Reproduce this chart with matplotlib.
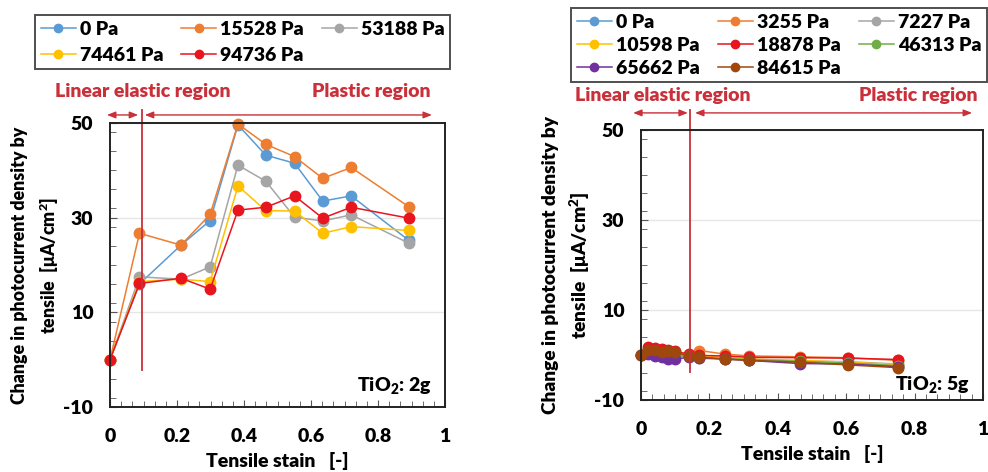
import matplotlib
matplotlib.use("Agg")
import matplotlib.pyplot as plt
from matplotlib.ticker import MultipleLocator

plt.rcParams['font.family'] = ['Lato', 'DejaVu Sans']
plt.rcParams['font.weight'] = 800
plt.rcParams['axes.labelweight'] = 800
plt.rcParams['mathtext.default'] = 'regular'
plt.rcParams['axes.unicode_minus'] = False

# ---- left panel (TiO2: 2g) ----
strain_2g = [0, 0.088, 0.212, 0.299, 0.382, 0.465, 0.551, 0.635, 0.720, 0.892]
labels_2g = ['0 Pa', '15528 Pa', '53188 Pa', '74461 Pa', '94736 Pa']
colors_2g = ['#5B9BD5', '#ED7D31', '#A5A5A5', '#FFC000', '#E8141E']
vals_2g = [
    [0, 16.0, 24.2, 29.4, 49.6, 43.2, 41.5, 33.5, 34.6, 25.2],
    [0, 26.7, 24.2, 30.7, 49.8, 45.5, 42.9, 38.3, 40.6, 32.3],
    [0, 17.5, 17.0, 19.6, 41.1, 37.7, 30.1, 29.3, 30.6, 24.6],
    [0, 16.5, 17.0, 16.5, 36.7, 31.5, 31.4, 26.7, 28.1, 27.3],
    [0, 16.1, 17.2, 14.9, 31.6, 32.2, 34.6, 29.9, 32.2, 29.9],
]

# ---- right panel (TiO2: 5g) ----
strain_5g = [0, 0.02, 0.04, 0.06, 0.08, 0.10, 0.14, 0.17, 0.245, 0.315, 0.465, 0.605, 0.75]
labels_5g = ['0 Pa', '3255 Pa', '7227 Pa', '10598 Pa', '18878 Pa', '46313 Pa',
             '65662 Pa', '84615 Pa']
colors_5g = ['#5B9BD5', '#ED7D31', '#A5A5A5', '#FFC000', '#E8141E', '#70AD47',
             '#7030A0', '#9E480E']
vals_5g = [
    [0, 0.5, 0.3, 0.2, -0.3, -0.2, -0.2, -0.4, -0.7, -1.0, -1.6, -1.7, -2.2],
    [0, 1.2, 1.0, 0.9, 0.5, 0.3, -0.1, 1.0, 0.2, -0.2, -0.4, -0.6, -1.2],
    [0, 0.8, 0.6, 0.4, 0.1, 0.2, -0.3, -0.4, -0.6, -0.9, -1.3, -1.5, -2.0],
    [0, 0.9, 0.7, 0.8, 0.5, 0.2, -0.1, -0.3, -0.5, -0.9, -1.2, -1.6, -2.1],
    [0, 1.8, 1.6, 1.4, 1.2, 0.8, 0.2, -0.1, -0.2, -0.5, -0.6, -0.7, -1.0],
    [0, 0.4, 0.2, 0.0, -0.2, -0.1, -0.3, -0.6, -0.8, -1.0, -1.4, -1.8, -2.4],
    [0, 0.2, -0.2, -0.4, -0.8, -0.9, -0.5, -0.7, -0.9, -1.2, -1.9, -2.0, -2.6],
    [0, 1.2, 1.1, 0.6, 0.9, 0.6, -0.2, -0.5, -0.9, -1.2, -1.6, -2.2, -2.8],
]
xtick_vals = [0, 0.2, 0.4, 0.6, 0.8, 1.0]
xtick_text = ['0', '0.2', '0.4', '0.6', '0.8', '1']
ytick_vals = [-10, 10, 30, 50]

RED = '#C9303A'
FS = 14
WT = 800
W, H = 988, 472

fig = plt.figure(figsize=(W / 100, H / 100), dpi=100)
ax1 = fig.add_axes([110 / W, 1 - 407 / H, 335 / W, 284 / H])
ax2 = fig.add_axes([641 / W, 1 - 400 / H, 342 / W, 270 / H])


def style(ax, tag, ylab_fs, tag_y):
    ax.set_xlim(0, 1)
    ax.set_ylim(-10, 50)
    ax.grid(axis='y', which='major', color='#E6E6E6', lw=1)
    ax.set_axisbelow(True)
    ax.tick_params(which='both', direction='in', color='#555555')
    ax.tick_params(which='major', length=5)
    ax.tick_params(which='minor', length=4)
    ax.tick_params(axis='x', pad=15)
    ax.tick_params(axis='y', pad=12)
    ax.set_xticks(xtick_vals, labels=xtick_text, fontsize=FS, fontweight=WT)
    ax.set_yticks(ytick_vals, labels=[str(v) for v in ytick_vals],
                  fontsize=FS, fontweight=WT)
    ax.xaxis.set_minor_locator(MultipleLocator(0.2 / 6))
    ax.yaxis.set_minor_locator(MultipleLocator(4))
    for s in ax.spines.values():
        s.set_linewidth(1.4)
        s.set_color('#222222')
    ax.set_xlabel('Tensile stain   [-]', fontsize=FS, fontweight=WT, labelpad=5)
    ax.set_ylabel('Change in photocurrent density by\ntensile  [\u03bcA/cm$^2$]',
                  fontsize=ylab_fs, fontweight=WT, labelpad=2, linespacing=1.45)
    ax.text(0.96, tag_y, 'TiO$_2$: ' + tag, transform=ax.transAxes,
            ha='right', va='center', fontsize=FS, fontweight=WT)


for ys, lab, c in zip(vals_2g, labels_2g, colors_2g):
    ax1.plot(strain_2g, ys, '-o', color=c, label=lab, lw=1.1, ms=7.5, clip_on=False)
style(ax1, '2g', 12.8, 0.077)

for ys, lab, c in zip(vals_5g, labels_5g, colors_5g):
    ax2.plot(strain_5g, ys, '-o', color=c, label=lab, lw=1.1, ms=7.5, clip_on=False)
style(ax2, '5g', 13.8, 0.058)

# region markers
arrow = dict(arrowstyle='<|-|>,head_length=0.5,head_width=0.2', color=RED, lw=1.0,
             shrinkA=0, shrinkB=0)
ax1.annotate('', xy=(-0.009, 51.7), xytext=(0.084, 51.7), arrowprops=arrow,
             annotation_clip=False)
ax1.annotate('', xy=(0.104, 51.7), xytext=(0.961, 51.7), arrowprops=arrow,
             annotation_clip=False)
ax1.plot([0.097, 0.097], [52.7, -2.2], color=RED, lw=1.3, clip_on=False)

ax2.annotate('', xy=(-0.023, 53.8), xytext=(0.137, 53.8), arrowprops=arrow,
             annotation_clip=False)
ax2.annotate('', xy=(0.158, 53.8), xytext=(0.968, 53.8), arrowprops=arrow,
             annotation_clip=False)
ax2.plot([0.143, 0.143], [54.4, -3.8], color=RED, lw=1.3, clip_on=False)

for x, y, s, ha in [(55, 91, 'Linear elastic region', 'left'),
                    (430, 91, 'Plastic region', 'right'),
                    (575, 96, 'Linear elastic region', 'left'),
                    (977, 96, 'Plastic region', 'right')]:
    fig.text(x / W, 1 - y / H, s, color=RED, fontsize=FS, fontweight=WT,
             ha=ha, va='center')

# legends: matplotlib fills columns first, reorder so rows read like the original
for ax, box, order, lsp in [(ax1, (35, 15, 415), [0, 3, 1, 4, 2], 0.45),
                            (ax2, (571, 8, 416), [0, 3, 6, 1, 4, 7, 2, 5], 0.3)]:
    x0, y0, w = box
    handles, labels = ax.get_legend_handles_labels()
    leg = ax.legend([handles[i] for i in order], [labels[i] for i in order],
                    loc='upper left', ncol=3, mode='expand',
                    bbox_to_anchor=(x0 / W, 0, w / W, 1 - y0 / H),
                    bbox_transform=fig.transFigure, borderaxespad=0,
                    prop={'size': FS, 'weight': WT}, frameon=True, fancybox=False,
                    handlelength=1.8, handletextpad=0.2, labelspacing=lsp,
                    borderpad=0.3, markerscale=0.8)
    leg.get_frame().set_edgecolor('#222222')
    leg.get_frame().set_linewidth(1.4)

fig.savefig('out.png', dpi=100)
